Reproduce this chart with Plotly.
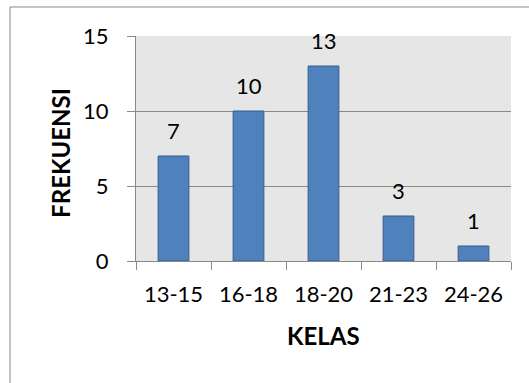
import plotly.graph_objects as go

# Frequency distribution by class interval
kelas = ["13-15", "16-18", "18-20", "21-23", "24-26"]
frekuensi = [7, 10, 13, 3, 1]
y_ticks = [0, 5, 10, 15]

FONT = "Lato, Liberation Sans, sans-serif"
GRID = "#898989"

fig = go.Figure(
    go.Bar(
        x=kelas,
        y=frekuensi,
        marker=dict(color="#4f81bd", line=dict(color="#385d8a", width=1)),
        width=0.41,
        hoverinfo="x+y",
    )
)

# value labels above each bar
for k, v in zip(kelas, frekuensi):
    fig.add_annotation(
        x=k, y=v, text=str(v), showarrow=False,
        yshift=26, yanchor="middle",
        font=dict(family=FONT, size=22, color="#000000"),
    )

# axis titles
fig.add_annotation(
    xref="paper", yref="paper", x=0.5, y=-0.329,
    xanchor="center", yanchor="middle", showarrow=False,
    text="<b>KELAS</b>", font=dict(family=FONT, size=24, color="#000000"),
)
fig.add_annotation(
    xref="paper", yref="paper", x=-0.203, y=0.48,
    xanchor="center", yanchor="middle", showarrow=False, textangle=-90,
    text="<b>FREKUENSI</b>", font=dict(family=FONT, size=24, color="#000000"),
)

# outer chart frame
fig.add_shape(
    type="rect", xref="paper", yref="paper",
    x0=-0.336, x1=1.2, y0=-0.8, y1=1.129,
    line=dict(color=GRID, width=1), fillcolor="rgba(0,0,0,0)",
    layer="below",
)

fig.update_layout(
    width=529, height=383,
    margin=dict(l=136, r=18, t=36, b=122),
    paper_bgcolor="#ffffff",
    plot_bgcolor="#e6e6e6",
    showlegend=False,
    font=dict(family=FONT, size=22, color="#000000"),
    xaxis=dict(
        type="category",
        tickson="boundaries",
        ticks="outside", ticklen=8, tickcolor=GRID, tickwidth=1,
        showline=True, linecolor=GRID, linewidth=1,
        showgrid=False,
        tickfont=dict(family=FONT, size=22),
        ticklabelstandoff=14,
    ),
    yaxis=dict(
        range=[0, 15],
        tickvals=y_ticks,
        ticks="outside", ticklen=8, tickcolor=GRID, tickwidth=1,
        showline=True, linecolor=GRID, linewidth=1,
        showgrid=True, gridcolor=GRID, gridwidth=1,
        zeroline=False,
        tickfont=dict(family=FONT, size=22),
        ticklabelstandoff=14,
    ),
)

fig.write_html("out.html")
